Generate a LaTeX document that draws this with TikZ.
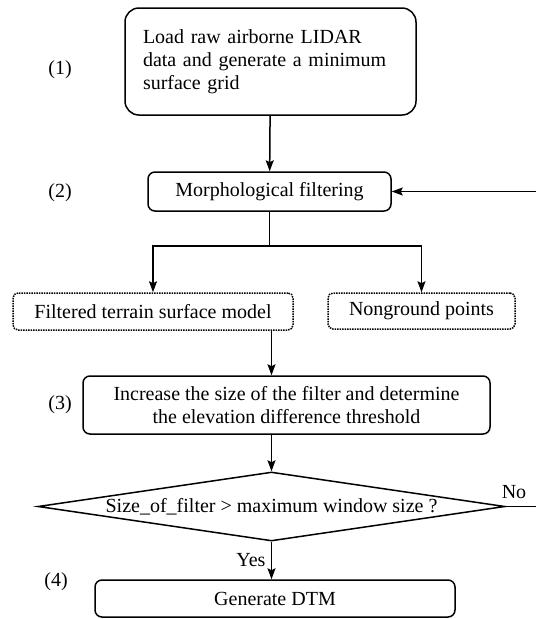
\documentclass[tikz,border=0pt]{standalone}
\usepackage{fontspec}
\setmainfont{Liberation Serif}
\usetikzlibrary{shapes.geometric,arrows.meta}
\begin{document}
\begin{tikzpicture}[x=1pt, y=-1pt, line width=1.5pt,
  every node/.style={font=\fontsize{20}{23}\selectfont},
  proc/.style={draw, rounded corners=7pt, align=center, inner sep=0pt},
  outp/.style={draw, densely dotted, rounded corners=5pt, inner sep=0pt},
  dia/.style={draw, diamond, inner sep=0pt},
  flow/.style={-{Stealth[length=11pt,width=8pt,inset=2pt]}}]
\useasboundingbox (0,0) rectangle (536,619);
% the steps of the filter
\node[proc, rounded corners=14pt, align=left, text width=255pt, inner xsep=18pt,
  minimum height=107pt] (load) at (270.5,61.5)
  {Load raw airborne LIDAR\\data and generate a minimum\\surface grid};
\node[proc, minimum width=243pt, minimum height=39pt] (filt) at (269.5,191.5) {Morphological filtering};
\node[outp, minimum width=280pt, minimum height=37pt] (terrain) at (153,311.5) {Filtered terrain surface model};
\node[outp, minimum width=187pt, minimum height=36pt] (nonground) at (421.5,311) {Nonground points};
\node[proc, minimum width=407pt, minimum height=58pt] (increase) at (286.5,405)
  {Increase the size of the filter and determine\\the elevation difference threshold};
\node[dia, minimum width=467pt, minimum height=69pt] (dec) at (271.5,506.5) {};
\node (dectext) at (dec) {Size\_of\_filter > maximum window size ?};
\node[proc, minimum width=360pt, minimum height=37pt] (dtm) at (275,598.5) {Generate DTM};
% step numbers
\node (s1) at (60,70) {(1)};
\node (s2) at (60,193) {(2)};
\node (s3) at (60,405) {(3)};
\node (s4) at (56,582) {(4)};
% connectors
\draw[flow] (load) -- (filt);
\draw (filt.south) -- ++(0,34) coordinate (split);
\draw[flow] (split) -| (terrain.north);
\draw[flow] (split) -| (nonground.north);
\draw[flow] (terrain.south -| dec.north) -- (increase.north -| dec.north);
\draw[flow] (increase.south -| dec.north) -- (dec.north);
\draw[flow] (dec.south) -- (dtm.north -| dec.south) node[midway, left=2pt] (yes) {Yes};
\coordinate (noend) at (536,506.5);
\draw (dec.east) -- (noend);
\node (no) at (514,492) {No};
\coordinate (fbin) at (536,191.5);
\draw[flow] (fbin) -- (filt.east);
\end{tikzpicture}
\end{document}
